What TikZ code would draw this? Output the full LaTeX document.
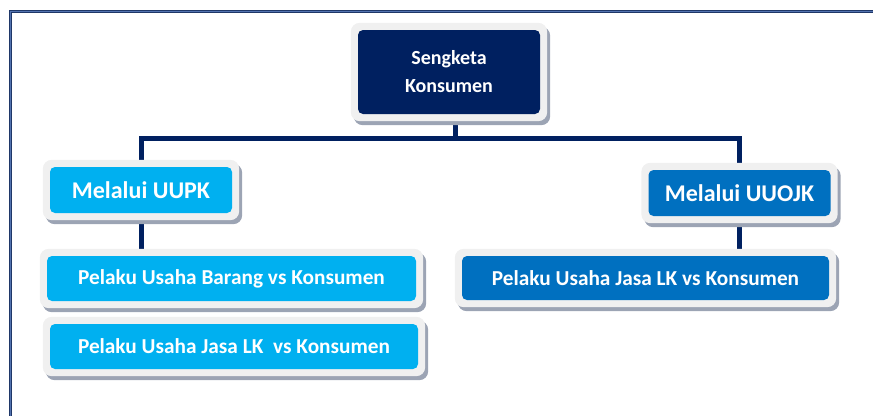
\documentclass[tikz,border=0pt]{standalone}
\usepackage{fontspec}
\setmainfont{Carlito}
\usetikzlibrary{fit}
\definecolor{navy}{HTML}{002060}
\definecolor{lblue}{HTML}{00B0F0}
\definecolor{mblue}{HTML}{0070C0}
\definecolor{framegray}{HTML}{F0F0F0}
\definecolor{shadowgray}{HTML}{9CA4B4}
\definecolor{borderdark}{HTML}{1F3768}
\definecolor{borderlight}{HTML}{5373B0}
\pgfdeclarelayer{connlayer}
\pgfdeclarelayer{framelayer}
\pgfsetlayers{connlayer,framelayer,main}
\tikzset{
  box/.style={rectangle, rounded corners=5pt, text=white, align=center,
    inner sep=0pt, font=\bfseries\fontsize{20}{28}\selectfont},
  topbox/.style={box, fill=navy, minimum width=182pt, minimum height=84pt},
  midbox/.style={box, minimum width=182pt, minimum height=46pt, font=\bfseries\fontsize{24}{28}\selectfont},
  leafbox/.style={box, minimum width=368pt, minimum height=45pt, font=\bfseries\fontsize{21.3}{25}\selectfont},
  outerframe/.style={rectangle, rounded corners=9pt, inner sep=7pt, fill=framegray,
    preaction={fill=shadowgray, transform canvas={shift={(3pt,-4pt)}}}},
  conn/.style={draw=navy, line width=5pt}
}
\begin{document}
\begin{tikzpicture}[x=1pt,y=-1pt]
\useasboundingbox (0,0) rectangle (873,416);
% page border
\draw[borderdark, line width=3pt] (873,11) -- (10,11) -- (10,416);
\draw[borderlight, line width=0.8pt] (873,11) -- (10,11) -- (10,416);

% nodes
\node[topbox] (top) at (449,72) {Sengketa\\Konsumen};
\node[midbox, fill=lblue] (uupk) at (141,190) {Melalui UUPK};
\node[midbox, fill=mblue] (uuojk) at (739.5,193) {Melalui UUOJK};
\node[leafbox, fill=lblue, minimum width=369pt] (barang) at (231.5,278.5) {Pelaku Usaha Barang vs Konsumen};
\node[leafbox, fill=lblue] (jasaL) at (234,346.5) {Pelaku Usaha Jasa LK\ \ vs Konsumen};
\node[leafbox, fill=mblue, minimum width=367pt, minimum height=44pt] (jasaR) at (645.5,278) {Pelaku Usaha Jasa LK vs Konsumen};

% frames
\begin{pgfonlayer}{framelayer}
\foreach \n in {top,uupk,uuojk,barang,jasaL,jasaR}
  \node[outerframe, fit=(\n)] {};
\end{pgfonlayer}

% connectors
\coordinate (bus) at (455,138);
\begin{pgfonlayer}{connlayer}
\draw[conn] (top.south -| bus) -- (bus);
\draw[conn] (uupk.north) |- (bus) -| (uuojk.north);
\draw[conn] (uupk.south) -- (uupk.south |- barang.north);
\draw[conn] (uuojk.south) -- (uuojk.south |- jasaR.north);
\end{pgfonlayer}
\end{tikzpicture}
\end{document}
